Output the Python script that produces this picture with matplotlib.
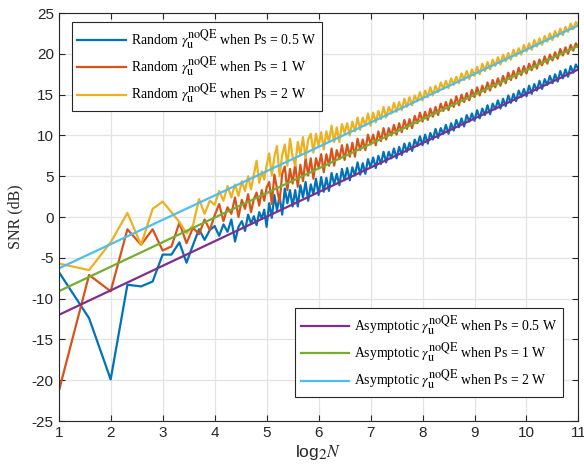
import numpy as np
import matplotlib
matplotlib.use('Agg')
import matplotlib.pyplot as plt
import matplotlib._mathtext as mt

# sparse part: N = 2 .. 32
n_small = list(range(2, 33))
rand_05_small = [-6.7, -12.4, -19.9, -8.3, -8.5, -7.9, -4.6, -4.6, -3.1, -5.6, -3.4, -1.5, -2.8, -1.6, -1.1,
                 -2.3, -0.9, -1.8, -0.3, -3.0, -1.2, -0.5, -1.7, 0.3, -0.8, 0.1, -1.0, 0.6, -0.2, 0.9, -1.2]
rand_1_small = [-21.4, -7.1, -9.1, -1.5, -3.4, -1.5, -4.1, -3.6, -0.7, -3.2, -1.3, -2.1, -0.3, -1.6, 0.2,
                1.6, -0.5, 1.2, 0.4, 2.4, 0.0, 2.1, 1.0, 2.8, 0.6, 2.2, 3.0, 1.4, 3.3, 2.0, 3.6]
rand_2_small = [-5.7, -6.5, -3.1, 0.5, -3.4, 1.0, 1.9, 0.6, -0.6, -2.0, -1.0, 2.2, 0.4, 2.0, 1.5,
                3.2, 2.0, 3.8, 2.4, 4.0, 2.6, 4.4, 3.2, 5.0, 3.4, 5.2, 6.9, 4.2, 5.6, 4.6, 6.3]

# dense part: log2N = 5.05 .. 11.00
x_dense = np.linspace(5.05, 11.0, 120)
rand_05_dense = [1.7, -0.1, 2.7, 0.8, 2.6, 0.3, 3.5, 1.7, 3.3, 1.3,
                 3.3, 1.3, 3.9, 2.4, 4.3, 2.0, 4.0, 2.8, 4.7, 2.7,
                 4.9, 3.1, 4.8, 3.2, 5.4, 4.0, 5.3, 3.9, 5.9, 4.5,
                 6.0, 4.5, 6.1, 5.1, 6.7, 5.2, 6.6, 5.3, 7.1, 6.1,
                 7.3, 6.0, 7.5, 6.5, 8.0, 6.7, 8.0, 7.2, 8.4, 7.2,
                 8.6, 7.6, 9.0, 8.0, 9.1, 8.1, 9.5, 8.7, 9.9, 8.8,
                 10.1, 9.0, 10.3, 9.5, 10.8, 9.7, 10.9, 10.2, 11.3, 10.2,
                 11.5, 10.6, 11.9, 11.0, 12.1, 11.1, 12.5, 11.7, 12.7, 11.8,
                 13.1, 12.1, 13.3, 12.5, 13.7, 12.6, 13.9, 13.2, 14.3, 13.3,
                 14.5, 13.6, 14.9, 14.0, 15.1, 14.2, 15.5, 14.7, 15.7, 14.8,
                 16.1, 15.1, 16.3, 15.5, 16.7, 15.7, 16.9, 16.2, 17.3, 16.4,
                 17.5, 16.6, 17.9, 17.0, 18.1, 17.2, 18.5, 17.7, 18.7, 18.1]
rand_1_dense = [4.3, 1.6, 5.2, 3.5, 1.8, 5.3, 6.2, 3.3, 5.9, 4.1,
                6.5, 3.7, 6.4, 4.4, 7.2, 5.1, 7.2, 4.7, 7.2, 6.1,
                7.7, 5.5, 7.7, 6.3, 8.4, 6.3, 8.2, 7.1, 8.8, 7.0,
                8.9, 7.4, 9.1, 7.4, 9.6, 8.2, 9.5, 8.2, 10.1, 8.9,
                10.1, 8.8, 10.5, 9.3, 10.9, 9.5, 10.9, 10.0, 11.3, 10.1,
                11.5, 10.4, 11.9, 10.8, 12.0, 10.9, 12.4, 11.5, 12.8, 11.7,
                12.9, 11.9, 13.3, 12.3, 13.5, 12.5, 13.9, 13.0, 14.1, 13.1,
                14.4, 13.5, 14.8, 13.7, 15.0, 14.1, 15.2, 14.3, 15.6, 14.7,
                15.9, 14.9, 16.1, 15.3, 16.5, 15.5, 16.8, 15.9, 17.0, 16.1,
                17.3, 16.4, 17.7, 16.8, 17.9, 17.0, 18.3, 17.4, 18.5, 17.6,
                18.8, 18.0, 19.1, 18.2, 19.3, 18.6, 19.7, 18.8, 19.9, 19.2,
                20.2, 19.4, 20.6, 19.8, 20.8, 20.0, 21.1, 20.4, 21.3, 20.8]
rand_2_dense = [7.8, 5.1, 7.4, 8.7, 5.0, 7.6, 8.9, 6.3, 9.6, 7.4,
                6.3, 9.2, 7.6, 9.8, 7.2, 9.5, 10.2, 7.9, 10.2, 8.7,
                10.4, 8.3, 10.5, 9.2, 11.2, 9.2, 11.0, 9.2, 11.4, 10.3,
                11.5, 10.0, 11.7, 10.5, 12.2, 10.7, 12.2, 11.2, 12.7, 11.2,
                12.8, 11.6, 13.0, 12.0, 13.5, 12.2, 13.5, 12.7, 14.0, 12.9,
                14.1, 13.1, 14.5, 13.5, 14.7, 13.7, 14.9, 14.2, 15.3, 14.3,
                15.5, 14.7, 15.9, 14.9, 16.1, 15.3, 16.5, 15.7, 16.7, 15.8,
                17.0, 16.2, 17.2, 16.4, 17.6, 16.8, 17.9, 16.9, 18.1, 17.3,
                18.4, 17.5, 18.8, 17.9, 19.0, 18.1, 19.3, 18.5, 19.6, 18.7,
                19.9, 19.1, 20.1, 19.3, 20.5, 19.7, 20.7, 19.9, 21.1, 20.3,
                21.3, 20.5, 21.7, 20.9, 21.9, 21.1, 22.2, 21.5, 22.5, 21.7,
                22.8, 22.1, 23.1, 22.3, 23.3, 22.7, 23.7, 23.0, 23.9, 23.5]

# asymptotic lines (straight in log2N), end points
x_asym = [1, 11]
asym_05 = [-12.0, 18.1]
asym_1 = [-9.1, 21.0]
asym_2 = [-6.3, 23.5]

x_rand = np.concatenate([np.log2(n_small), x_dense])

# MATLAB-style tex: scripts barely shrink
mt.SHRINK_FACTOR = 0.88
plt.rcParams['mathtext.fontset'] = 'stix'
plt.rcParams['font.family'] = 'Liberation Sans'

fig = plt.figure(figsize=(5.84, 4.76), dpi=100)
ax = fig.add_axes([0.1005, 0.1155, 0.89, 0.857])

lw = 1.6
l1, = ax.plot(x_rand, rand_05_small + rand_05_dense, color='#0072BD', lw=lw)
l2, = ax.plot(x_rand, rand_1_small + rand_1_dense, color='#D95319', lw=lw)
l3, = ax.plot(x_rand, rand_2_small + rand_2_dense, color='#EDB120', lw=lw)
l4, = ax.plot(x_asym, asym_05, color='#7E2F8E', lw=lw)
l5, = ax.plot(x_asym, asym_1, color='#77AC30', lw=lw)
l6, = ax.plot(x_asym, asym_2, color='#4DBEEE', lw=lw)

ax.set_xlim(1, 11)
ax.set_ylim(-25, 25)
ax.set_xticks(range(1, 12))
ax.set_yticks(range(-25, 26, 5))
ax.set_yticklabels([str(v) for v in range(-25, 26, 5)])
ax.grid(True, color='#e3e3e3', lw=0.9)
ax.set_axisbelow(True)
ax.tick_params(direction='in', top=True, right=True, labelsize=11, colors='#262626', length=4)
for s in ax.spines.values():
    s.set_color('#262626')
    s.set_linewidth(0.8)

ax.set_xlabel(r'log$_2$$\mathit{N}$', fontsize=12.5, color='#262626', labelpad=2)
ax.set_ylabel('SNR (dB)', fontsize=11.5, family='Liberation Serif', color='#262626', labelpad=6)

gam = r'$\gamma_{\mathrm{u}}^{\mathrm{noQE}}$'
leg_props = dict(family='Liberation Serif', size=9.9)
leg1 = ax.legend([l1, l2, l3],
                 ['Random ' + gam + ' when Ps = 0.5 W',
                  'Random ' + gam + ' when Ps = 1 W',
                  'Random ' + gam + ' when Ps = 2 W'],
                 loc='upper left', bbox_to_anchor=(0.0256, 0.979), borderaxespad=0,
                 prop=leg_props, handlelength=3.5, handletextpad=0.4, labelspacing=0.25,
                 fancybox=False, edgecolor='#262626', framealpha=1)
leg1.get_frame().set_linewidth(0.8)
ax.add_artist(leg1)
leg2 = ax.legend([l4, l5, l6],
                 ['Asymptotic ' + gam + ' when Ps = 0.5 W',
                  'Asymptotic ' + gam + ' when Ps = 1 W',
                  'Asymptotic ' + gam + ' when Ps = 2 W'],
                 loc='lower right', bbox_to_anchor=(0.970, 0.0596), borderaxespad=0,
                 prop=leg_props, handlelength=3.5, handletextpad=0.4, labelspacing=0.25,
                 fancybox=False, edgecolor='#262626', framealpha=1)
leg2.get_frame().set_linewidth(0.8)

plt.savefig('out.png', dpi=100)
